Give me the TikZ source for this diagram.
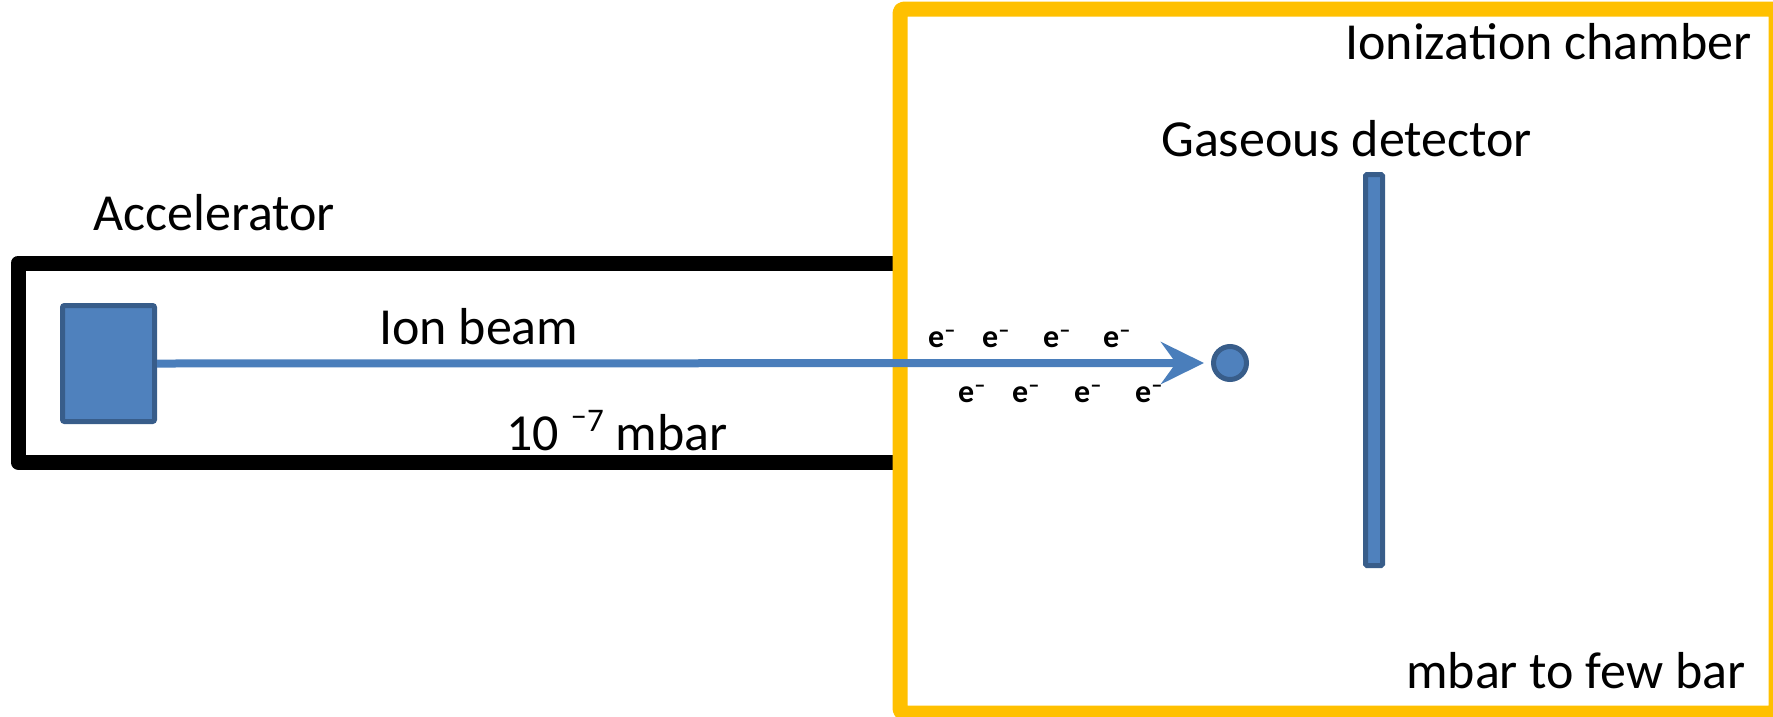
\documentclass[tikz,border=0pt]{standalone}
\usepackage{fontspec}
\setmainfont{Carlito}
\usetikzlibrary{arrows.meta}
\definecolor{boxblue}{HTML}{4F81BD}
\definecolor{boxedge}{HTML}{385D8A}
\definecolor{beamblue}{HTML}{4A7EBB}
\definecolor{chamberyellow}{HTML}{FFC000}
\newcommand\emin{e\textsuperscript{\textendash}}
\newcommand\supminusseven{{\fontsize{33}{38}\selectfont\raisebox{24pt}{\textendash}\raisebox{19pt}{7}}}
\begin{document}
\begin{tikzpicture}[x=1pt,y=-1pt,
  lbl/.style={inner sep=0pt, anchor=base west, font=\fontsize{52}{62}\selectfont},
  elec/.style={inner sep=0pt, anchor=base west, font=\fontsize{32}{38}\selectfont\bfseries},
  blueshape/.style={fill=boxblue, draw=boxedge, line width=5pt},
  wall/.style={line width=15pt, line join=round}]
\useasboundingbox (0,0) rectangle (1773,716);
% accelerator pipe
\draw[wall, black] (900,263) -- (18,263) -- (18,462) -- (900,462);
% ionization chamber
\draw[wall, chamberyellow, rounded corners=4pt] (900,9) rectangle (1776,713);
% shapes
\node[blueshape, rectangle, rounded corners=2pt, minimum width=92pt, minimum height=116pt, inner sep=0pt] (src) at (108.5,363.5) {};
\node[blueshape, circle, minimum size=33pt, inner sep=0pt] (ion) at (1230,363) {};
\node[blueshape, rectangle, rounded corners=1.5pt, minimum width=17pt, minimum height=391pt, inner sep=0pt] (det) at (1374,370) {};
% beam
\draw[line width=8pt, color=beamblue, -{Stealth[length=43pt, width=42pt, inset=15pt]}]
  (src.east) -- ([xshift=-7pt]ion.west);
% labels
\node[lbl] (tchamber) at (1345,59) {Ionization chamber};
\node[lbl] (tdet) at (1161,156) {Gaseous detector};
\node[lbl] (tacc) at (93,230) {Accelerator};
\node[lbl] (tbeam) at (379,344) {Ion beam};
\node[lbl] (tvac) at (506,450) {10 \supminusseven\ mbar};
\node[lbl] (tpress) at (1406,688) {mbar to few bar};
% electrons
\node[elec] (e1) at (928,347) {\emin};
\node[elec] (e2) at (982,347) {\emin};
\node[elec] (e3) at (1043,347) {\emin};
\node[elec] (e4) at (1103,347) {\emin};
\node[elec] (e5) at (958,402) {\emin};
\node[elec] (e6) at (1012,402) {\emin};
\node[elec] (e7) at (1074,402) {\emin};
\node[elec] (e8) at (1135,402) {\emin};
\end{tikzpicture}
\end{document}
